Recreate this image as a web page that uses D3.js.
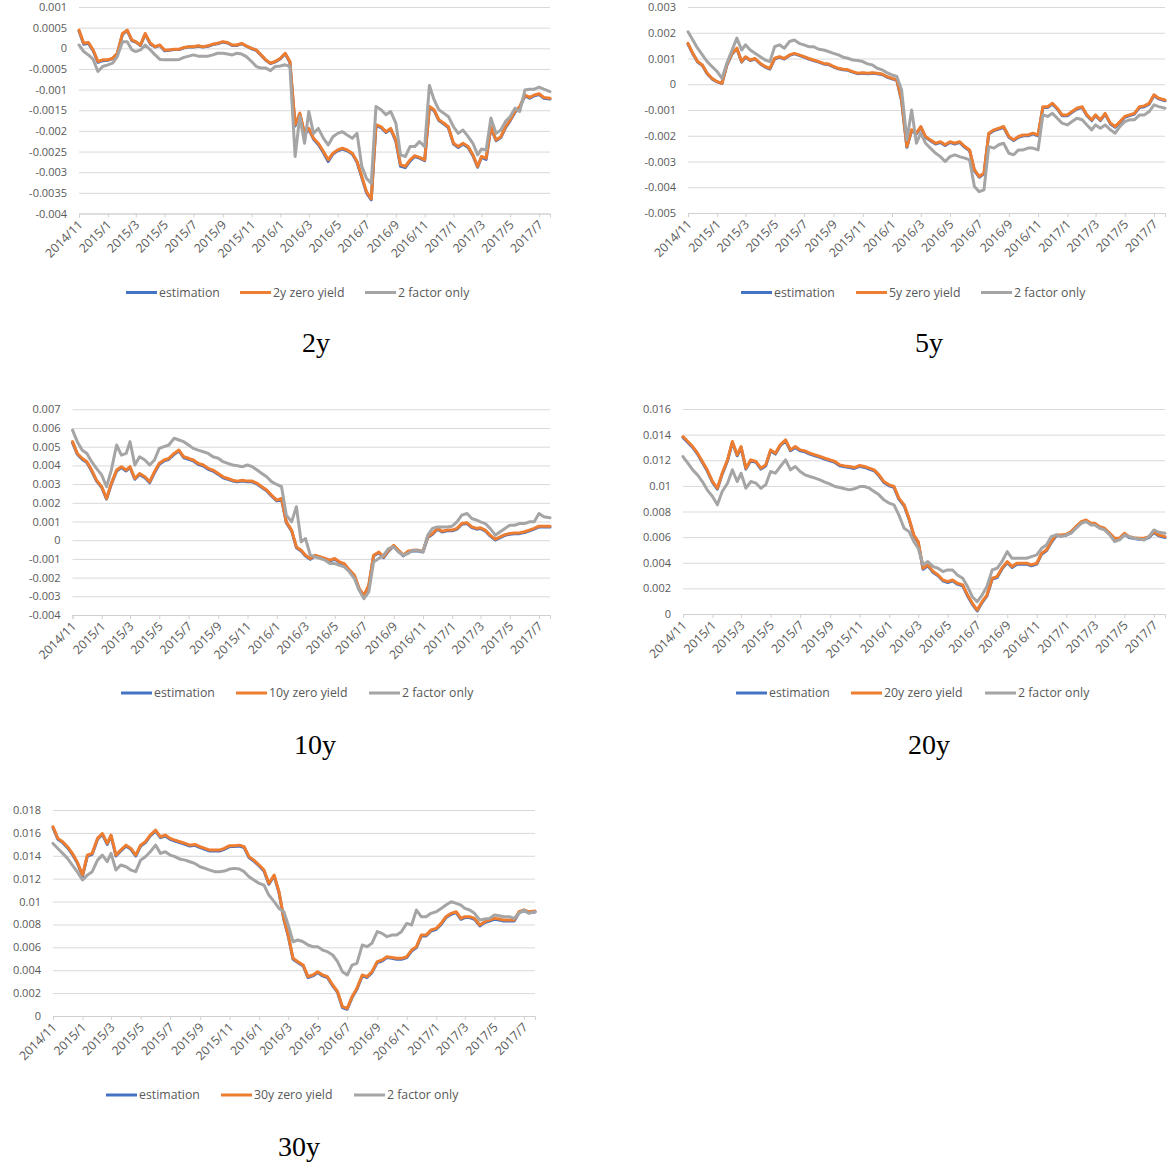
<!DOCTYPE html>
<html>
<head>
<meta charset="utf-8">
<script src="https://cdn.jsdelivr.net/npm/d3@7"></script>
<style>
  body { margin: 0; background: #fff; }
  svg text { font-family: "Open Sans", "Noto Sans", sans-serif; }
</style>
</head>
<body>
<svg id="chart" width="1172" height="1166"></svg>
<script>
// sample dates (1st, 11th, 21st of each month)
const dates = [
  "2014-11-01","2014-11-11","2014-11-21","2014-12-01","2014-12-11","2014-12-21",
  "2015-01-01","2015-01-11","2015-01-21","2015-02-01","2015-02-11","2015-02-21",
  "2015-03-01","2015-03-11","2015-03-21","2015-04-01","2015-04-11","2015-04-21",
  "2015-05-01","2015-05-11","2015-05-21","2015-06-01","2015-06-11","2015-06-21",
  "2015-07-01","2015-07-11","2015-07-21","2015-08-01","2015-08-11","2015-08-21",
  "2015-09-01","2015-09-11","2015-09-21","2015-10-01","2015-10-11","2015-10-21",
  "2015-11-01","2015-11-11","2015-11-21","2015-12-01","2015-12-11","2015-12-21",
  "2016-01-01","2016-01-11","2016-01-21","2016-02-01","2016-02-11","2016-02-21",
  "2016-03-01","2016-03-11","2016-03-21","2016-04-01","2016-04-11","2016-04-21",
  "2016-05-01","2016-05-11","2016-05-21","2016-06-01","2016-06-11","2016-06-21",
  "2016-07-01","2016-07-11","2016-07-21","2016-08-01","2016-08-11","2016-08-21",
  "2016-09-01","2016-09-11","2016-09-21","2016-10-01","2016-10-11","2016-10-21",
  "2016-11-01","2016-11-11","2016-11-21","2016-12-01","2016-12-11","2016-12-21",
  "2017-01-01","2017-01-11","2017-01-21","2017-02-01","2017-02-11","2017-02-21",
  "2017-03-01","2017-03-11","2017-03-21","2017-04-01","2017-04-11","2017-04-21",
  "2017-05-01","2017-05-11","2017-05-21","2017-06-01","2017-06-11","2017-06-21",
  "2017-07-01","2017-07-11","2017-07-24"
];

// all series values in basis points (1bp = 0.0001)
const est2y = [4.2, 1.0, 1.2, -0.6, -3.4, -3.0, -2.9, -2.5, -1.3, 3.4,
  4.3, 1.8, 1.5, 0.7, 3.4, 1.0, 0.3, 0.7, -0.6, -0.5,
  -0.3, -0.3, 0.1, 0.3, 0.3, 0.5, 0.3, 0.5, 0.9, 1.1,
  1.5, 1.3, 0.7, 0.7, 1.1, 0.5, -0.1, -0.5, -1.7, -2.9,
  -3.7, -3.3, -2.5, -1.3, -3.4, -18.8, -16.0, -20.8, -19.6, -22.0,
  -23.3, -25.3, -27.4, -25.6, -24.8, -24.4, -24.8, -25.6, -27.6, -31.3,
  -35.0, -36.7, -18.8, -19.2, -20.4, -19.6, -22.5, -28.6, -28.9, -27.3,
  -26.2, -26.6, -27.2, -14.3, -15.1, -17.5, -18.3, -19.2, -23.2, -24.0,
  -23.2, -24.0, -26.0, -28.8, -26.4, -26.9, -19.2, -22.4, -21.6, -19.2,
  -17.5, -15.5, -14.3, -11.5, -12.1, -11.5, -11.2, -12.1, -12.3];
const zero2y = [4.4, 1.2, 1.4, -0.4, -3.2, -2.8, -2.8, -2.4, -1.2, 3.6,
  4.4, 2.0, 1.6, 0.8, 3.6, 1.2, 0.4, 0.8, -0.4, -0.4,
  -0.2, -0.2, 0.2, 0.4, 0.4, 0.6, 0.4, 0.6, 1.0, 1.2,
  1.6, 1.4, 0.8, 0.8, 1.2, 0.6, 0.0, -0.4, -1.6, -2.8,
  -3.6, -3.2, -2.4, -1.2, -3.2, -18.5, -15.7, -20.6, -19.4, -21.8,
  -23.0, -25.0, -27.0, -25.4, -24.6, -24.2, -24.6, -25.4, -27.4, -31.0,
  -34.7, -36.5, -18.5, -19.0, -20.2, -19.4, -22.2, -28.2, -28.6, -27.0,
  -26.0, -26.4, -27.0, -14.1, -14.9, -17.3, -18.1, -19.0, -23.0, -23.8,
  -23.0, -23.8, -25.8, -28.6, -26.2, -26.6, -19.0, -22.2, -21.4, -19.0,
  -17.3, -15.3, -14.1, -11.3, -11.9, -11.3, -11.0, -11.9, -12.1];
const two2y = [0.8, -0.8, -1.6, -2.7, -5.6, -4.4, -4.0, -3.6, -2.0, 1.6,
  1.6, -0.4, -0.8, -0.4, 0.8, -0.4, -1.6, -2.7, -2.8, -2.8,
  -2.8, -2.7, -2.2, -1.9, -1.6, -1.9, -1.9, -1.9, -1.6, -1.2,
  -1.2, -1.4, -1.6, -1.2, -1.4, -2.0, -3.2, -4.4, -4.8, -4.8,
  -5.4, -4.4, -4.3, -4.0, -4.4, -26.2, -16.5, -23.0, -15.3, -20.6,
  -19.4, -21.8, -23.4, -21.4, -20.6, -20.2, -21.0, -21.8, -20.6, -28.6,
  -31.5, -32.7, -14.1, -14.9, -16.1, -15.3, -18.1, -25.8, -26.2, -23.8,
  -23.8, -22.6, -23.8, -9.0, -12.5, -14.9, -15.7, -16.5, -19.0, -20.6,
  -19.8, -21.4, -23.0, -25.8, -24.4, -24.6, -16.9, -20.6, -19.8, -17.7,
  -16.5, -14.5, -15.3, -10.1, -9.9, -9.9, -9.4, -9.9, -10.5];

const est5y = [15.6, 11.8, 8.6, 7.3, 4.1, 2.1, 0.9, 0.3, 7.3, 11.8,
  13.8, 8.6, 10.5, 9.2, 9.8, 7.9, 6.7, 5.9, 9.9, 10.5,
  9.8, 11.2, 11.8, 11.2, 10.5, 9.8, 9.2, 8.6, 7.9, 7.7,
  6.7, 6.0, 5.6, 5.4, 4.7, 4.1, 4.3, 4.1, 4.3, 4.1,
  3.8, 2.8, 2.1, 1.5, -6.5, -24.5, -18.0, -19.3, -16.7, -20.6,
  -21.9, -23.2, -22.6, -23.8, -22.6, -23.2, -22.6, -24.5, -25.8, -33.5,
  -36.1, -34.8, -19.3, -18.0, -17.4, -16.7, -20.6, -21.9, -20.6, -20.0,
  -20.0, -19.3, -20.0, -9.0, -9.0, -7.7, -9.6, -12.2, -12.2, -10.9,
  -9.6, -9.0, -12.2, -14.1, -12.2, -14.1, -11.6, -15.4, -16.7, -14.8,
  -12.8, -12.2, -11.6, -9.0, -8.7, -7.7, -4.4, -5.7, -6.4];
const zero5y = [15.9, 12.0, 8.8, 7.5, 4.3, 2.3, 1.0, 0.4, 7.5, 12.0,
  14.0, 8.8, 10.7, 9.4, 10.0, 8.1, 6.9, 6.2, 10.1, 10.7,
  10.0, 11.4, 12.0, 11.4, 10.7, 10.0, 9.4, 8.8, 8.1, 7.9,
  6.9, 6.2, 5.8, 5.6, 4.9, 4.3, 4.5, 4.3, 4.5, 4.3,
  4.0, 3.0, 2.3, 1.7, -6.1, -24.2, -17.7, -19.0, -16.4, -20.3,
  -21.6, -22.9, -22.3, -23.5, -22.3, -22.9, -22.3, -24.2, -25.5, -33.2,
  -35.8, -34.5, -19.0, -17.7, -17.1, -16.4, -20.3, -21.6, -20.3, -19.7,
  -19.7, -19.0, -19.7, -8.7, -8.7, -7.4, -9.3, -11.9, -11.9, -10.6,
  -9.3, -8.7, -11.9, -13.8, -11.9, -13.8, -11.3, -15.1, -16.4, -14.5,
  -12.5, -11.9, -11.3, -8.7, -8.4, -7.4, -4.1, -5.4, -6.1];
const two5y = [20.4, 17.2, 14.0, 11.4, 8.8, 6.9, 4.9, 2.3, 8.1, 13.3,
  17.9, 13.3, 15.3, 13.3, 12.0, 10.7, 9.4, 8.8, 14.6, 15.3,
  14.0, 16.6, 17.2, 15.9, 15.3, 14.6, 14.6, 13.6, 13.3, 12.7,
  12.0, 11.4, 10.5, 10.1, 9.4, 9.2, 8.8, 7.9, 7.5, 6.2,
  5.6, 4.5, 3.6, 3.0, -2.2, -21.6, -10.0, -22.9, -19.0, -22.9,
  -24.8, -26.8, -28.1, -30.0, -28.1, -27.4, -28.1, -28.7, -29.4, -39.7,
  -41.7, -41.0, -24.2, -24.8, -23.5, -22.9, -26.8, -27.4, -25.5, -25.5,
  -24.8, -24.8, -25.5, -11.9, -12.5, -11.3, -13.2, -15.1, -15.8, -14.5,
  -13.2, -13.8, -15.8, -17.7, -15.8, -17.1, -15.8, -17.7, -19.0, -16.4,
  -14.5, -13.8, -13.8, -11.9, -11.9, -10.6, -8.0, -8.7, -9.3];

const est10y = [52.2, 46.0, 43.3, 41.5, 37.0, 31.7, 28.2, 22.0, 30.0, 37.0,
  38.9, 37.0, 38.9, 32.6, 35.2, 33.4, 30.8, 36.0, 40.6, 42.4,
  43.3, 45.9, 47.7, 44.1, 43.3, 42.4, 40.6, 39.7, 37.9, 37.0,
  35.2, 33.4, 32.6, 31.7, 31.2, 31.7, 31.2, 31.2, 30.0, 28.2,
  26.4, 23.7, 21.0, 21.9, 9.4, 5.0, -4.0, -5.8, -8.4, -10.2,
  -8.4, -9.3, -10.2, -11.1, -10.2, -12.0, -12.9, -16.4, -19.2, -26.3,
  -29.9, -24.5, -8.4, -6.7, -9.3, -5.8, -3.1, -5.8, -8.4, -6.3,
  -5.8, -5.8, -6.3, 1.4, 3.2, 5.9, 4.4, 5.0, 5.0, 5.9,
  8.5, 8.9, 6.7, 5.9, 6.2, 5.0, 2.3, 0.1, 1.4, 2.6,
  3.2, 3.5, 3.5, 4.1, 5.0, 5.9, 7.1, 7.1, 7.1];
const zero10y = [52.7, 46.4, 43.8, 42.0, 37.5, 32.1, 28.6, 22.3, 30.4, 37.5,
  39.3, 37.5, 39.3, 33.0, 35.7, 33.9, 31.3, 36.6, 41.1, 42.9,
  43.8, 46.4, 48.2, 44.6, 43.8, 42.9, 41.1, 40.2, 38.4, 37.5,
  35.7, 33.9, 33.0, 32.1, 31.6, 32.1, 31.6, 31.6, 30.4, 28.6,
  26.8, 24.1, 21.4, 22.3, 9.8, 5.4, -3.6, -5.4, -8.0, -9.8,
  -8.0, -8.9, -9.8, -10.7, -9.8, -11.6, -12.5, -16.0, -18.8, -25.9,
  -29.5, -24.1, -8.0, -6.3, -8.9, -5.4, -2.7, -5.4, -8.0, -5.9,
  -5.4, -5.4, -5.9, 1.8, 3.6, 6.3, 4.8, 5.4, 5.4, 6.3,
  8.9, 9.3, 7.1, 6.3, 6.6, 5.4, 2.7, 0.5, 1.8, 3.0,
  3.6, 3.9, 3.9, 4.5, 5.4, 6.3, 7.5, 7.5, 7.5];
const two10y = [58.9, 52.7, 48.2, 46.4, 42.0, 38.4, 34.8, 28.6, 37.5, 50.9,
  45.5, 46.4, 52.7, 40.2, 44.6, 42.9, 40.2, 42.9, 49.1, 50.0,
  50.9, 54.5, 53.6, 52.7, 50.9, 49.1, 48.2, 47.3, 46.4, 44.6,
  43.8, 42.0, 41.1, 40.2, 39.8, 39.3, 40.2, 39.3, 37.5, 35.7,
  33.9, 31.3, 29.8, 28.6, 13.4, 9.8, 17.9, -0.9, 0.9, -8.0,
  -8.9, -9.8, -10.7, -12.5, -12.5, -13.4, -14.3, -17.0, -20.5, -26.8,
  -31.3, -27.7, -11.6, -9.8, -8.0, -4.5, -3.6, -6.3, -8.0, -7.1,
  -5.4, -5.4, -6.3, 2.7, 6.3, 7.1, 7.1, 7.1, 7.5, 9.8,
  13.4, 14.3, 11.6, 10.7, 9.8, 8.9, 6.3, 2.7, 4.5, 6.3,
  8.0, 8.0, 8.9, 8.9, 9.8, 9.8, 14.3, 12.5, 12.0];

const est20y = [137.8, 133.9, 130.0, 124.8, 118.3, 111.8, 102.7, 97.5, 109.2, 119.6,
  133.9, 123.5, 130.0, 113.1, 119.6, 118.3, 113.1, 115.7, 127.4, 124.8,
  131.3, 135.2, 127.4, 130.0, 127.4, 126.6, 124.8, 123.5, 122.2, 120.9,
  119.6, 118.3, 115.7, 114.9, 114.4, 113.6, 115.2, 114.4, 113.1, 111.8,
  107.9, 102.7, 100.1, 98.8, 89.7, 84.5, 74.0, 61.0, 55.8, 35.0,
  37.6, 32.4, 29.8, 25.9, 24.6, 25.9, 23.3, 22.0, 14.1, 7.6,
  2.4, 8.9, 14.1, 27.2, 28.5, 35.0, 40.2, 36.3, 38.9, 38.9,
  38.9, 37.6, 38.9, 46.7, 49.3, 55.8, 61.0, 61.0, 61.5, 63.6,
  67.5, 71.4, 72.7, 70.1, 70.1, 67.5, 66.2, 62.3, 58.4, 58.4,
  62.3, 59.7, 58.9, 58.4, 58.4, 59.7, 63.6, 61.0, 59.7];
const zero20y = [138.5, 134.6, 130.7, 125.5, 119.0, 112.5, 103.4, 98.2, 109.9, 120.3,
  134.6, 124.2, 130.7, 113.8, 120.3, 119.0, 113.8, 116.4, 128.1, 125.5,
  132.0, 135.9, 128.1, 130.7, 128.1, 127.3, 125.5, 124.2, 122.9, 121.6,
  120.3, 119.0, 116.4, 115.6, 115.1, 114.3, 115.9, 115.1, 113.8, 112.5,
  108.6, 103.4, 100.8, 99.5, 90.4, 85.2, 74.7, 61.7, 56.5, 35.7,
  38.3, 33.1, 30.5, 26.6, 25.3, 26.6, 24.0, 22.7, 14.8, 8.3,
  3.1, 9.6, 14.8, 27.9, 29.2, 35.7, 40.9, 37.0, 39.6, 39.6,
  39.6, 38.3, 39.6, 47.4, 50.0, 56.5, 61.7, 61.7, 62.2, 64.3,
  68.2, 72.1, 73.4, 70.8, 70.8, 68.2, 66.9, 63.0, 59.1, 59.1,
  63.0, 60.4, 59.6, 59.1, 59.1, 60.4, 64.3, 61.7, 60.4];
const two20y = [122.9, 117.7, 112.5, 108.6, 103.4, 96.9, 91.7, 85.2, 95.6, 102.1,
  112.5, 103.4, 109.9, 98.2, 103.4, 102.1, 98.2, 100.8, 111.2, 109.9,
  115.1, 120.3, 112.5, 115.1, 111.2, 108.6, 107.3, 106.0, 104.7, 102.9,
  101.3, 99.5, 98.7, 97.7, 96.9, 97.7, 99.5, 99.5, 98.2, 95.6,
  93.0, 89.1, 86.5, 85.2, 77.3, 66.9, 64.3, 56.5, 51.3, 38.3,
  40.9, 37.0, 35.7, 33.1, 34.4, 34.4, 30.5, 27.9, 21.4, 13.5,
  9.6, 14.8, 21.4, 34.4, 35.7, 40.9, 48.7, 43.5, 43.5, 43.5,
  43.5, 44.8, 46.1, 51.3, 53.9, 60.4, 61.7, 60.4, 61.7, 63.0,
  66.9, 70.8, 72.1, 69.5, 69.5, 66.9, 65.6, 61.7, 56.5, 57.8,
  61.7, 60.4, 59.1, 58.6, 57.8, 60.4, 65.6, 63.8, 63.0];

const est30y = [164.6, 154.4, 151.5, 147.1, 141.3, 134.0, 122.3, 139.8, 141.3, 154.4,
  158.7, 150.0, 157.3, 139.8, 144.2, 148.5, 145.6, 139.8, 148.5, 151.5,
  157.3, 161.6, 155.8, 157.3, 154.4, 152.9, 151.5, 150.0, 148.5, 149.1,
  147.1, 145.6, 144.2, 144.2, 144.2, 145.6, 148.0, 148.0, 148.5, 147.1,
  138.4, 135.4, 131.1, 126.7, 115.1, 122.3, 107.8, 84.5, 69.9, 49.6,
  46.7, 43.7, 33.6, 35.0, 37.9, 35.0, 33.6, 26.3, 20.6, 7.4,
  5.9, 16.1, 23.4, 35.0, 33.6, 37.9, 46.7, 48.1, 51.0, 50.4,
  49.6, 49.6, 51.0, 56.8, 59.8, 69.9, 69.9, 74.3, 75.8, 80.1,
  86.0, 88.9, 90.3, 84.5, 86.0, 86.0, 84.5, 78.7, 81.6, 83.0,
  84.5, 83.9, 83.0, 83.0, 83.0, 90.3, 91.8, 90.3, 90.9];
const zero30y = [165.4, 155.2, 152.3, 147.9, 142.1, 134.8, 123.1, 140.6, 142.1, 155.2,
  159.5, 150.8, 158.1, 140.6, 145.0, 149.3, 146.4, 140.6, 149.3, 152.3,
  158.1, 162.4, 156.6, 158.1, 155.2, 153.7, 152.3, 150.8, 149.3, 149.9,
  147.9, 146.4, 145.0, 145.0, 145.0, 146.4, 148.8, 148.8, 149.3, 147.9,
  139.2, 136.2, 131.9, 127.5, 115.9, 123.1, 108.6, 85.3, 70.7, 50.4,
  47.5, 44.5, 34.4, 35.8, 38.7, 35.8, 34.4, 27.1, 21.4, 8.2,
  6.7, 16.9, 24.2, 35.8, 34.4, 38.7, 47.5, 48.9, 51.8, 51.2,
  50.4, 50.4, 51.8, 57.6, 60.6, 70.7, 70.7, 75.1, 76.6, 80.9,
  86.8, 89.7, 91.1, 85.3, 86.8, 86.8, 85.3, 79.5, 82.4, 83.8,
  85.3, 84.7, 83.8, 83.8, 83.8, 91.1, 92.6, 91.1, 91.7];
const two30y = [150.8, 146.4, 142.1, 137.7, 131.9, 126.1, 118.8, 123.1, 126.1, 136.2,
  140.6, 134.8, 142.1, 127.5, 131.9, 130.4, 127.5, 126.1, 136.2, 139.2,
  143.5, 149.3, 142.1, 143.5, 140.6, 139.2, 137.1, 136.2, 134.8, 133.3,
  130.4, 129.0, 127.5, 126.1, 126.1, 126.6, 128.4, 129.0, 128.4, 126.1,
  121.7, 118.8, 115.9, 114.4, 105.7, 99.9, 94.0, 91.1, 79.5, 64.9,
  66.4, 64.9, 62.0, 60.6, 60.6, 57.6, 56.2, 53.3, 47.5, 38.7,
  35.8, 44.5, 46.0, 62.0, 60.6, 63.5, 73.7, 72.2, 69.3, 70.7,
  70.7, 73.7, 80.9, 79.5, 92.6, 86.8, 86.8, 89.7, 91.1, 94.0,
  96.9, 99.9, 98.4, 96.9, 94.0, 92.6, 89.7, 83.8, 84.7, 85.3,
  88.2, 87.6, 86.8, 86.8, 85.3, 89.7, 92.6, 89.7, 91.1];

// y axis tick labels
const yTicks2y = [0.001, 0.0005, 0, -0.0005, -0.001, -0.0015, -0.002, -0.0025, -0.003, -0.0035, -0.004];
const yTicks5y = [0.003, 0.002, 0.001, 0, -0.001, -0.002, -0.003, -0.004, -0.005];
const yTicks10y = [0.007, 0.006, 0.005, 0.004, 0.003, 0.002, 0.001, 0, -0.001, -0.002, -0.003, -0.004];
const yTicks20y = [0.016, 0.014, 0.012, 0.01, 0.008, 0.006, 0.004, 0.002, 0];
const yTicks30y = [0.018, 0.016, 0.014, 0.012, 0.01, 0.008, 0.006, 0.004, 0.002, 0];

const seriesColors = ["#4472C4", "#ED7D31", "#A5A5A5"];
const bp = 0.0001;

const panels = [
  { label: "2y", est: est2y, zero: zero2y, two: two2y, ticks: yTicks2y,
    x0: 79, x1: 550, yTop: 7, yBot: 213.5, legY: 292.5, legX: [126, 240, 365], titleX: 316, titleY: 352 },
  { label: "5y", est: est5y, zero: zero5y, two: two5y, ticks: yTicks5y,
    x0: 688, x1: 1165, yTop: 7, yBot: 213, legY: 292.5, legX: [741, 856, 981], titleX: 929, titleY: 352 },
  { label: "10y", est: est10y, zero: zero10y, two: two10y, ticks: yTicks10y,
    x0: 72.5, x1: 550, yTop: 409.3, yBot: 615, legY: 693, legX: [121, 236, 369], titleX: 315, titleY: 754 },
  { label: "20y", est: est20y, zero: zero20y, two: two20y, ticks: yTicks20y,
    x0: 683, x1: 1165, yTop: 409, yBot: 614, legY: 693, legX: [736, 851, 985], titleX: 929, titleY: 754 },
  { label: "30y", est: est30y, zero: zero30y, two: two30y, ticks: yTicks30y,
    x0: 53, x1: 535, yTop: 810, yBot: 1016, legY: 1095, legX: [106, 221, 354], titleX: 299, titleY: 1156 }
];

const parseDate = d3.timeParse("%Y-%m-%d");
const dateObjs = dates.map(parseDate);

const svg = d3.select("#chart");

panels.forEach((p) => {
  const xScale = d3.scaleTime()
    .domain(d3.extent(dateObjs))
    .range([p.x0, p.x1]);
  const yScale = d3.scaleLinear()
    .domain([d3.min(p.ticks), d3.max(p.ticks)])
    .range([p.yBot, p.yTop]);

  const g = svg.append("g");

  // gridlines + y labels
  g.append("g")
    .attr("transform", `translate(${p.x0},0)`)
    .call(
      d3.axisLeft(yScale)
        .tickValues(p.ticks)
        .tickSize(-(p.x1 - p.x0))
        .tickPadding(12)
        .tickFormat((d) => String(d))
    )
    .call((a) => a.select(".domain").remove())
    .call((a) => a.selectAll(".tick line").attr("stroke", "#D9D9D9"))
    .call((a) =>
      a.selectAll(".tick text")
        .attr("fill", "#595959")
        .style("font-size", "11px")
    );

  // x axis
  const xAxis = g.append("g")
    .attr("transform", `translate(0,${p.yBot})`)
    .call(
      d3.axisBottom(xScale)
        .ticks(d3.timeMonth.every(2))
        .tickFormat(d3.timeFormat("%Y/%-m"))
        .tickSizeOuter(0)
        .tickSize(4)
    );
  xAxis.select(".domain").attr("stroke", "#D0D0D0");
  xAxis.selectAll(".tick line").attr("stroke", "#D0D0D0");
  xAxis.selectAll(".tick text")
    .attr("fill", "#595959")
    .style("font-size", "12.3px")
    .style("text-anchor", "end")
    .attr("x", 0)
    .attr("y", 0)
    .attr("dy", 0)
    .attr("transform", "translate(4,12) rotate(-45)");

  // lines: estimation, zero yield, 2 factor (drawn in that order)
  const seriesList = [p.est, p.zero, p.two];
  const line = d3.line()
    .x((d, i) => xScale(dateObjs[i]))
    .y((d) => yScale(d * bp));

  seriesList.forEach((vals, si) => {
    g.append("path")
      .datum(vals)
      .attr("fill", "none")
      .attr("stroke", seriesColors[si])
      .attr("stroke-width", 3)
      .attr("stroke-linejoin", "round")
      .attr("stroke-linecap", "round")
      .attr("d", line);
  });

  // legend
  const names = ["estimation", p.label + " zero yield", "2 factor only"];
  names.forEach((name, si) => {
    const lx = p.legX[si];
    g.append("line")
      .attr("x1", lx)
      .attr("x2", lx + 31)
      .attr("y1", p.legY)
      .attr("y2", p.legY)
      .attr("stroke", seriesColors[si])
      .attr("stroke-width", 3);
    g.append("text")
      .attr("x", lx + 33)
      .attr("y", p.legY)
      .attr("dy", "0.35em")
      .attr("fill", "#595959")
      .style("font-size", "12.3px")
      .text(name);
  });

  // panel caption
  g.append("text")
    .attr("x", p.titleX)
    .attr("y", p.titleY)
    .attr("text-anchor", "middle")
    .style("font-family", "'Liberation Serif', 'DejaVu Serif', serif")
    .style("font-size", "28px")
    .attr("fill", "#000")
    .text(p.label);
});
</script>
</body>
</html>
